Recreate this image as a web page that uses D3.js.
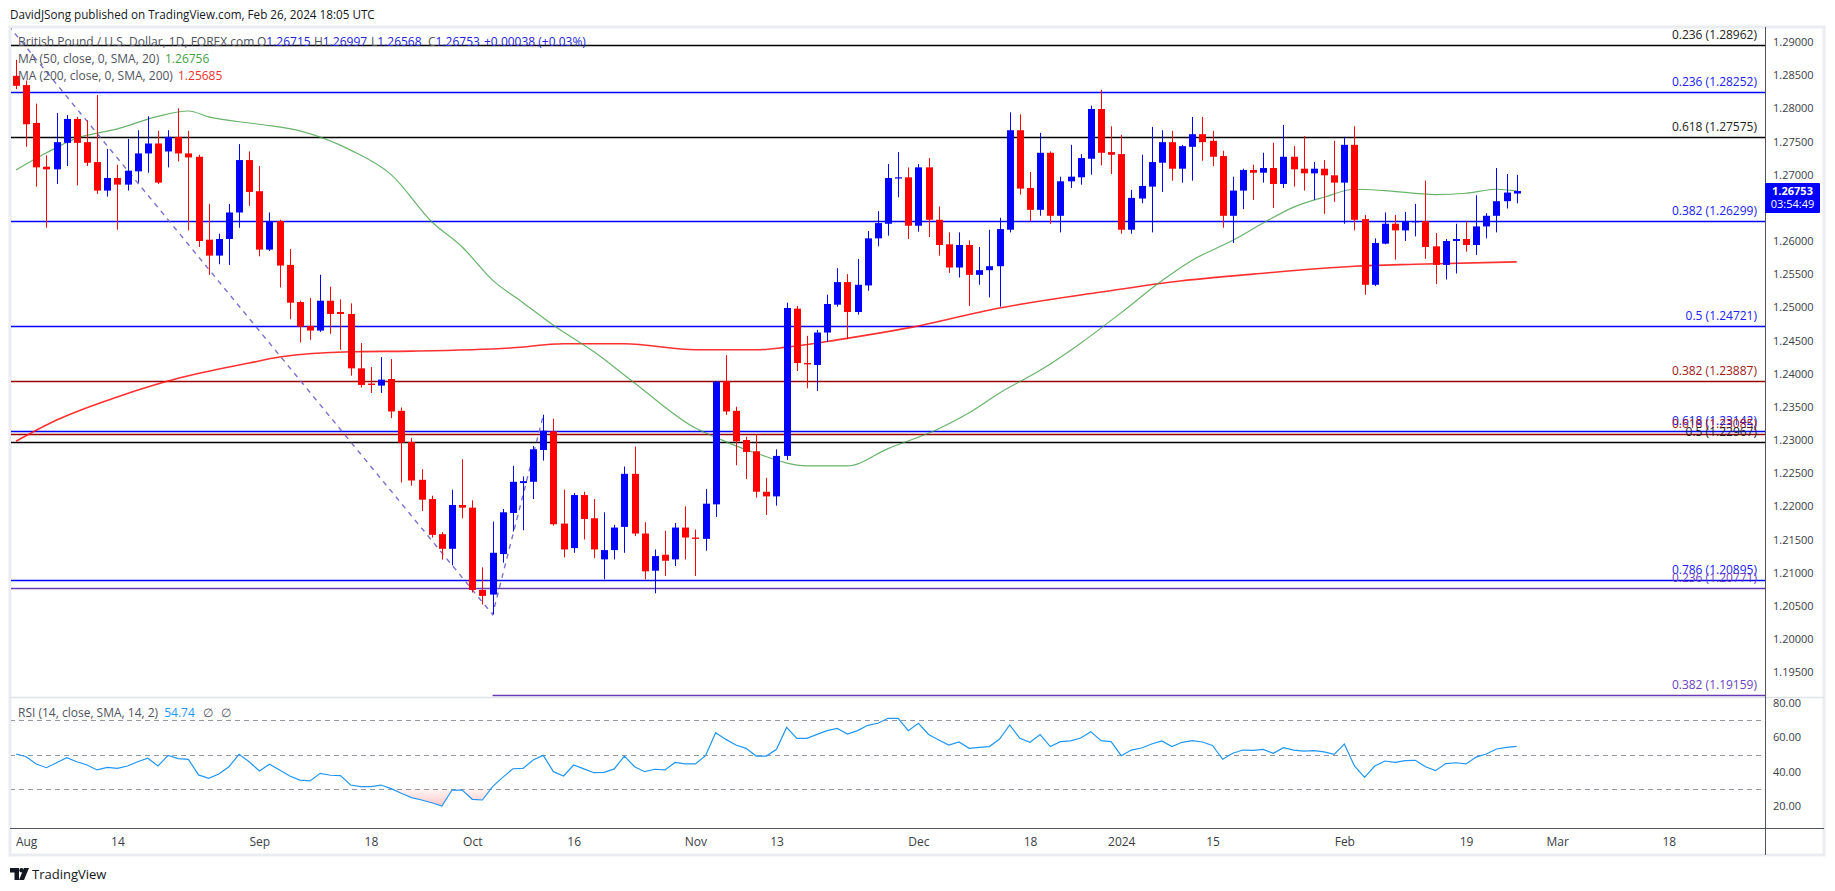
<!DOCTYPE html>
<html><head><meta charset="utf-8">
<script src="https://cdn.jsdelivr.net/npm/d3@7"></script>
<style>
html,body{margin:0;padding:0;background:#fff;}
svg{display:block;font-family:"Open Sans","Noto Sans",sans-serif;}
</style></head><body>
<svg id="chart" width="1835" height="891"></svg>
<script>
// ---------- DATA ----------
const monthDays = [
 ["2023-07",[31]],
 ["2023-08",[1,2,3,4,7,8,9,10,11,14,15,16,17,18,21,22,23,24,25,28,29,30,31]],
 ["2023-09",[1,4,5,6,7,8,11,12,13,14,15,18,19,20,21,22,25,26,27,28,29]],
 ["2023-10",[2,3,4,5,6,9,10,11,12,13,16,17,18,19,20,23,24,25,26,27,30,31]],
 ["2023-11",[1,2,3,6,7,8,9,10,13,14,15,16,17,20,21,22,23,24,27,28,29,30]],
 ["2023-12",[1,4,5,6,7,8,11,12,13,14,15,18,19,20,21,22,26,27,28,29]],
 ["2024-01",[2,3,4,5,8,9,10,11,12,15,16,17,18,19,22,23,24,25,26,29,30,31]],
 ["2024-02",[1,2,5,6,7,8,9,12,13,14,15,16,19,20,21,22,23,26]]
];
const openP = [
1.2849,1.2835,1.2778,1.2712,1.2708,1.2748,1.2784,1.2749,1.2719,1.2676,
1.2695,1.2685,1.2705,1.2732,1.2747,1.2735,1.2757,1.2732,1.2727,1.2602,
1.2578,1.2603,1.2643,1.2722,1.2675,1.2587,1.2630,1.2564,1.2508,1.2472,
1.2465,1.2510,1.2493,1.2490,1.2408,1.2385,1.2382,1.2392,1.2344,1.2297,
1.2240,1.2211,1.2158,1.2136,1.2202,1.2198,1.2074,1.2067,1.2128,1.2190,
1.2235,1.2237,1.2285,1.2313,1.2174,1.2137,1.2217,1.2182,1.2120,1.2134,
1.2169,1.2249,1.2159,1.2103,1.2127,1.2120,1.2168,1.2153,1.2151,1.2203,
1.2389,1.2344,1.2300,1.2283,1.2222,1.2215,1.2276,1.2498,1.2416,1.2413,
1.2462,1.2504,1.2538,1.2493,1.2533,1.2604,1.2626,1.2695,1.2696,1.2623,
1.2711,1.2632,1.2595,1.2560,1.2594,1.2549,1.2556,1.2562,1.2617,1.2767,
1.2680,1.2647,1.2733,1.2638,1.2690,1.2696,1.2724,1.2799,1.2734,1.2731,
1.2617,1.2664,1.2682,1.2718,1.2749,1.2709,1.2742,1.2761,1.2751,1.2728,
1.2638,1.2676,1.2707,1.2703,1.2710,1.2686,1.2727,1.2709,1.2702,1.2709,
1.2699,1.2688,1.2745,1.2633,1.2534,1.2596,1.2626,1.2616,1.2629,1.2630,
1.2592,1.2564,1.2600,1.2603,1.2594,1.2622,1.2638,1.2660,1.26715];
const highP = [
1.2873,1.2842,1.2807,1.2729,1.2793,1.2790,1.2787,1.2782,1.2820,1.2739,
1.2715,1.2754,1.2767,1.2788,1.2766,1.2767,1.2800,1.2766,1.2730,1.2656,
1.2611,1.2656,1.2746,1.2735,1.2713,1.2643,1.2632,1.2588,1.2510,1.2514,
1.2549,1.2531,1.2512,1.2506,1.2446,1.2410,1.2425,1.2422,1.2349,1.2303,
1.2256,1.2216,1.2161,1.2225,1.2271,1.2209,1.2108,1.2177,1.2196,1.2261,
1.2245,1.2291,1.2338,1.2332,1.2225,1.2220,1.2222,1.2211,1.2191,1.2172,
1.2260,1.2290,1.2176,1.2135,1.2163,1.2175,1.2200,1.2165,1.2226,1.2389,
1.2428,1.2350,1.2305,1.2309,1.2243,1.2286,1.2507,1.2502,1.2457,1.2466,
1.2519,1.2559,1.2550,1.2573,1.2615,1.2645,1.2716,1.2734,1.2711,1.2716,
1.2725,1.2652,1.2613,1.2613,1.2601,1.2591,1.2617,1.2635,1.2794,1.2791,
1.2704,1.2763,1.2735,1.2697,1.2745,1.2731,1.2804,1.2828,1.2773,1.2760,
1.2677,1.2730,1.2772,1.2767,1.2766,1.2745,1.2787,1.2787,1.2766,1.2736,
1.2697,1.2709,1.2715,1.2733,1.2748,1.2775,1.2743,1.2758,1.2719,1.2722,
1.2751,1.2757,1.2773,1.2639,1.2604,1.2643,1.2639,1.2644,1.2656,1.2691,
1.2612,1.2603,1.2626,1.2630,1.2669,1.2642,1.2710,1.2701,1.26997];
const lowP = [
1.2829,1.2742,1.2682,1.2620,1.2686,1.2713,1.2684,1.2713,1.2671,1.2667,
1.2617,1.2676,1.2688,1.2703,1.2686,1.2711,1.2720,1.2616,1.2591,1.2549,
1.2565,1.2564,1.2620,1.2653,1.2577,1.2585,1.2530,1.2482,1.2447,1.2451,
1.2463,1.2460,1.2436,1.2397,1.2379,1.2371,1.2371,1.2333,1.2236,1.2231,
1.2193,1.2153,1.2120,1.2111,1.2182,1.2070,1.2052,1.2037,1.2115,1.2162,
1.2164,1.2211,1.2269,1.2171,1.2123,1.2130,1.2150,1.2122,1.2090,1.2120,
1.2130,1.2155,1.2090,1.2069,1.2095,1.2110,1.2120,1.2095,1.2133,1.2184,
1.2338,1.2262,1.2241,1.2213,1.2187,1.2201,1.2270,1.2404,1.2378,1.2374,
1.2448,1.2501,1.2452,1.2489,1.2525,1.2592,1.2608,1.2666,1.2603,1.2614,
1.2606,1.2578,1.2552,1.2545,1.2502,1.2534,1.2515,1.2501,1.2613,1.2670,
1.2630,1.2638,1.2626,1.2613,1.2680,1.2685,1.2700,1.2714,1.2701,1.2611,
1.2611,1.2657,1.2613,1.2674,1.2691,1.2688,1.2691,1.2721,1.2713,1.2620,
1.2597,1.2648,1.2662,1.2688,1.2650,1.2680,1.2682,1.2676,1.2662,1.2641,
1.2659,1.2626,1.2616,1.2519,1.2532,1.2595,1.2572,1.2600,1.2607,1.2573,
1.2535,1.2542,1.2551,1.2584,1.2579,1.2604,1.2613,1.2649,1.26568];
const closeP = [
1.2834,1.2776,1.2711,1.2708,1.2749,1.2784,1.2748,1.2718,1.2676,1.2695,
1.2685,1.2706,1.2732,1.2747,1.2688,1.2757,1.2732,1.2726,1.2600,1.2578,
1.2603,1.2643,1.2722,1.2674,1.2587,1.2630,1.2563,1.2507,1.2471,1.2465,
1.2510,1.2490,1.2490,1.2408,1.2383,1.2383,1.2391,1.2343,1.2296,1.2239,
1.2210,1.2157,1.2136,1.2202,1.2198,1.2074,1.2065,1.2130,1.2191,1.2237,
1.2238,1.2286,1.2314,1.2173,1.2135,1.2217,1.2181,1.2135,1.2134,1.2168,
1.2249,1.2159,1.2102,1.2125,1.2118,1.2168,1.2153,1.2151,1.2204,1.2388,
1.2343,1.2298,1.2282,1.2222,1.2215,1.2276,1.2499,1.2416,1.2414,1.2462,
1.2505,1.2538,1.2493,1.2534,1.2604,1.2627,1.2695,1.2696,1.2623,1.2711,
1.2632,1.2594,1.2560,1.2594,1.2549,1.2556,1.2562,1.2618,1.2767,1.2679,
1.2647,1.2733,1.2638,1.2690,1.2697,1.2725,1.2799,1.2733,1.2730,1.2617,
1.2665,1.2683,1.2719,1.2749,1.2709,1.2743,1.2761,1.2749,1.2727,1.2638,
1.2676,1.2707,1.2703,1.2710,1.2686,1.2727,1.2708,1.2702,1.2709,1.2699,
1.2688,1.2745,1.2632,1.2534,1.2597,1.2626,1.2616,1.2630,1.2630,1.2591,
1.2564,1.2600,1.2603,1.2594,1.2622,1.2638,1.2660,1.2673,1.26753];
const changeText = "+0.00038 (+0.03%)";
const rsiValues = [
50.3,48.7,44.5,42.3,45.2,48.2,45.8,43.9,41.0,42.5,
41.9,43.3,45.8,47.8,43.3,49.5,47.6,47.2,38.1,36.1,
38.6,42.9,50.1,45.8,40.4,44.3,41.0,37.5,35.1,34.6,
39.0,37.9,37.7,32.2,31.3,31.3,32.2,30.1,27.4,24.9,
23.5,21.9,20.0,29.3,29.3,23.9,23.5,31.3,36.7,41.7,
41.9,46.8,49.5,40.0,37.5,43.9,41.6,39.4,39.6,41.6,
49.1,42.9,40.0,41.4,41.0,45.4,44.5,44.5,49.3,62.7,
58.8,55.5,53.6,49.1,49.1,53.0,65.8,59.4,59.4,61.7,
63.9,65.2,61.9,63.9,67.0,68.2,71.1,71.1,63.9,68.2,
61.7,58.4,55.5,57.3,53.6,54.2,54.6,59.0,67.2,59.4,
57.1,61.6,54.6,57.5,57.9,59.6,63.3,58.1,57.5,49.3,
52.6,53.8,56.1,57.9,54.6,57.1,58.1,57.3,55.3,47.2,
50.7,52.6,52.4,53.0,50.7,54.0,52.6,52.0,52.2,51.5,
50.1,56.1,43.3,36.7,43.3,46.2,45.4,46.4,46.6,42.9,
40.6,44.7,45.2,44.5,48.5,50.3,53.2,54.2,54.74];
const ma50Dates = ["2023-07-31","2023-08-03","2023-08-08","2023-08-14","2023-08-18","2023-08-23","2023-08-25","2023-09-01","2023-09-07","2023-09-14","2023-09-20","2023-09-26","2023-09-29","2023-10-04","2023-10-09","2023-10-12","2023-10-18","2023-10-24","2023-11-01","2023-11-03","2023-11-09","2023-11-16","2023-11-22","2023-11-28","2023-12-05","2023-12-08","2023-12-13","2023-12-19","2023-12-26","2024-01-02","2024-01-08","2024-01-11","2024-01-17","2024-01-22","2024-01-25","2024-01-30","2024-02-02","2024-02-07","2024-02-14","2024-02-19","2024-02-22","2024-02-26"];
const ma50Values = [1.2707,1.2733,1.2755,1.2769,1.2788,1.2796,1.2787,1.2776,1.2766,1.2737,1.2700,1.2629,1.2591,1.2541,1.2507,1.2473,1.2433,1.2386,1.2318,1.2304,1.2280,1.2261,1.2261,1.2287,1.2317,1.2341,1.2371,1.2405,1.2446,1.2492,1.2540,1.2571,1.2601,1.2627,1.2651,1.2666,1.2678,1.2676,1.2670,1.2672,1.2678,1.26756];
const ma200Dates = ["2023-07-31","2023-08-04","2023-08-14","2023-08-22","2023-08-31","2023-09-05","2023-09-14","2023-09-22","2023-10-06","2023-10-13","2023-10-23","2023-11-01","2023-11-09","2023-11-14","2023-11-21","2023-11-30","2023-12-13","2023-12-28","2024-01-10","2024-01-19","2024-02-02","2024-02-12","2024-02-26"];
const ma200Values = [1.2298,1.2330,1.2365,1.2393,1.2416,1.2425,1.2433,1.2434,1.2439,1.2445,1.2445,1.2436,1.2436,1.2440,1.2451,1.2469,1.2499,1.2523,1.2540,1.2550,1.2562,1.2565,1.25685];
const fibRatios = ["0.236","0.236","0.618","0.382","0.5","0.382","0.618","0.618","0.5","0.786","0.236","0.382"];
const fibPrices = [1.28962,1.28252,1.27575,1.26299,1.24721,1.23887,1.23142,1.23085,1.22967,1.20895,1.20771,1.19159];
const fibKinds = ["black","blue","black","blue","blue","red","blue","red","black","blue","purple","purple"];
const fibStartDates = ["2023-07-27","2023-07-27","2023-07-27","2023-07-27","2023-07-27","2023-07-27","2023-07-27","2023-07-27","2023-07-27","2023-07-27","2023-07-27","2023-10-04"];
const trendDates = ["2023-07-27","2023-10-04","2023-10-11"];
const trendPrices = [1.2948,1.2037,1.2337];
const priceTicks = [1.195,1.200,1.205,1.210,1.215,1.220,1.225,1.230,1.235,1.240,1.245,1.250,1.255,1.260,1.265,1.270,1.275,1.280,1.285,1.290];
const rsiTicks = [80,60,40,20];
const rsiBands = [70,50,30];
const timeTickDates = ["2023-08-01","2023-08-14","2023-09-01","2023-09-18","2023-10-02","2023-10-16","2023-11-01","2023-11-13","2023-12-01","2023-12-18","2024-01-02","2024-01-15","2024-02-01","2024-02-19","2024-03-01","2024-03-18"];
const timeTickLabels = ["Aug","14","Sep","18","Oct","16","Nov","13","Dec","18","2024","15","Feb","19","Mar","18"];

// ---------- SETUP ----------
const dates = [];
monthDays.forEach(([m, ds]) => ds.forEach(d => dates.push(m + "-" + String(d).padStart(2, "0"))));
const idxMap = new Map(dates.map((d, i) => [d, i]));
function idxOf(s) {
  if (idxMap.has(s)) return idxMap.get(s);
  const d = new Date(s + "T00:00:00Z");
  const last = new Date(dates[dates.length - 1] + "T00:00:00Z");
  const first = new Date(dates[0] + "T00:00:00Z");
  if (d > last) {
    let c = new Date(last), i = dates.length - 1;
    while (c < d) { c.setUTCDate(c.getUTCDate() + 1); const w = c.getUTCDay(); if (w !== 0 && w !== 6) i++; }
    return i;
  }
  let c = new Date(first), i = 0;
  while (c > d) { c.setUTCDate(c.getUTCDate() - 1); const w = c.getUTCDay(); if (w !== 0 && w !== 6) i--; }
  return i;
}

const L = 10, R = 1765, PT = 28, PB = 697, RB = 828, AB = 855, OR = 1824;
const x = d3.scaleLinear().domain([0, 148]).range([16, 1516.7]);
const y = d3.scaleLinear().domain([1.19, 1.29]).range([705.33, 42]);
const yR = d3.scaleLinear().domain([20, 80]).range([806, 703]);

const fibColors = {black: "#000000", blue: "#0000ff", red: "#990000", purple: "#673ab7"};
const fibTextColors = {black: "#222222", blue: "#2020f0", red: "#a01818", purple: "#6c3fbf"};
const upC = "#0000ff", dnC = "#ff0000";

const svg = d3.select("#chart");
const defs = svg.append("defs");
defs.append("clipPath").attr("id", "pclip").append("rect").attr("x", L + 1).attr("y", PT).attr("width", R - L - 1).attr("height", PB - PT);
defs.append("clipPath").attr("id", "rclip").append("rect").attr("x", L + 1).attr("y", PB + 1).attr("width", R - L - 1).attr("height", RB - PB - 1);
defs.append("clipPath").attr("id", "below30").append("rect").attr("x", L + 1).attr("y", yR(30)).attr("width", R - L - 1).attr("height", RB - yR(30));
const grad = defs.append("linearGradient").attr("id", "pinkg").attr("gradientUnits", "userSpaceOnUse")
  .attr("x1", 0).attr("x2", 0).attr("y1", yR(30)).attr("y2", yR(20));
grad.append("stop").attr("offset", 0).attr("stop-color", "#ff5252").attr("stop-opacity", 0.05);
grad.append("stop").attr("offset", 1).attr("stop-color", "#ff5252").attr("stop-opacity", 0.32);

svg.append("rect").attr("width", 1835).attr("height", 891).attr("fill", "#fff");

// header
svg.append("text").attr("x", 10).attr("y", 19).attr("font-size", 11.7).attr("fill", "#131722")
  .text("DavidJSong published on TradingView.com, Feb 26, 2024 18:05 UTC");

// frame
svg.append("rect").attr("x", L).attr("y", 27).attr("width", OR - L).attr("height", AB - 27)
  .attr("fill", "none").attr("stroke", "#eaecf1").attr("stroke-width", 3);

// ---------- PRICE PANE ----------
const pg = svg.append("g").attr("clip-path", "url(#pclip)");

fibPrices.forEach((p, i) => {
  const yy = Math.round(y(p)) + 0.5;
  pg.append("line").attr("x1", Math.max(L, x(idxOf(fibStartDates[i])))).attr("x2", R)
    .attr("y1", yy).attr("y2", yy).attr("stroke", fibColors[fibKinds[i]]).attr("stroke-width", 1.5);
});

const lineGen = d3.line().x(d => x(d[0])).y(d => y(d[1])).curve(d3.curveMonotoneX);
pg.append("path").datum(ma200Dates.map((d, i) => [idxOf(d), ma200Values[i]]))
  .attr("d", lineGen).attr("fill", "none").attr("stroke", "#ff1a1a").attr("stroke-width", 1.6).attr("stroke-opacity", 0.9);
pg.append("path").datum(ma50Dates.map((d, i) => [idxOf(d), ma50Values[i]]))
  .attr("d", lineGen).attr("fill", "none").attr("stroke", "#43a047").attr("stroke-width", 1.2).attr("stroke-opacity", 0.8);

pg.append("path").datum(trendDates.map((d, i) => [idxOf(d), trendPrices[i]]))
  .attr("d", d3.line().x(d => x(d[0])).y(d => y(d[1]))).attr("fill", "none")
  .attr("stroke", "#7d6fcf").attr("stroke-width", 1.4).attr("stroke-dasharray", "5 5");

const candles = pg.append("g");
dates.forEach((d, i) => {
  const o = openP[i], h = highP[i], l = lowP[i], c = closeP[i];
  const col = c >= o ? upC : dnC;
  const xi = Math.round(x(i));
  candles.append("rect").attr("x", xi).attr("y", y(h)).attr("width", 1).attr("height", Math.max(1, y(l) - y(h))).attr("fill", col);
  const top = y(Math.max(o, c)), bot = y(Math.min(o, c));
  candles.append("rect").attr("x", xi - 3).attr("y", top).attr("width", 7).attr("height", Math.max(1.2, bot - top)).attr("fill", col);
});

fibPrices.forEach((p, i) => {
  svg.append("text").attr("x", 1757).attr("y", Math.round(y(p)) - 6).attr("text-anchor", "end")
    .attr("font-size", 12).attr("fill", fibTextColors[fibKinds[i]])
    .text(fibRatios[i] + " (" + p.toFixed(5) + ")");
});

// legend
const lg = svg.append("g").attr("font-size", 12);
const l1 = lg.append("text").attr("x", 18).attr("y", 46).attr("fill", "#50535e");
l1.append("tspan").text("British Pound / U.S. Dollar, 1D, FOREX.com");
const ohlcLab = ["O", "H", "L", "C"], ohlcVal = [openP[148], highP[148], lowP[148], closeP[148]];
const ohlcX = [257, 314, 371, 428];
ohlcLab.forEach((k, j) => {
  const t = lg.append("text").attr("x", ohlcX[j]).attr("y", 46);
  t.append("tspan").attr("fill", "#50535e").text(k);
  t.append("tspan").attr("fill", "#2424d8").text(ohlcVal[j].toFixed(5));
});
lg.append("text").attr("x", 484).attr("y", 46).attr("fill", "#2424d8").text(changeText);
const l2 = lg.append("text").attr("x", 18).attr("y", 63);
l2.append("tspan").attr("fill", "#50535e").text("MA (50, close, 0, SMA, 20)");
l2.append("tspan").attr("x", 165).attr("fill", "#43a047").text(ma50Values[ma50Values.length - 1].toFixed(5));
const l3 = lg.append("text").attr("x", 18).attr("y", 80);
l3.append("tspan").attr("fill", "#50535e").text("MA (200, close, 0, SMA, 200)");
l3.append("tspan").attr("x", 178).attr("fill", "#f23030").text(ma200Values[ma200Values.length - 1].toFixed(5));

// ---------- RSI PANE ----------
const rg = svg.append("g").attr("clip-path", "url(#rclip)");
rsiBands.forEach(v => {
  rg.append("line").attr("x1", L).attr("x2", R).attr("y1", Math.round(yR(v)) + 0.5).attr("y2", Math.round(yR(v)) + 0.5)
    .attr("stroke", "#9598a1").attr("stroke-width", 1).attr("stroke-dasharray", "5 4");
});
const rsiPts = rsiValues.map((v, i) => [i, v]);
rg.append("path").datum(rsiPts).attr("clip-path", "url(#below30)")
  .attr("d", d3.area().x(d => x(d[0])).y0(yR(30)).y1(d => yR(d[1])))
  .attr("fill", "url(#pinkg)");
rg.append("path").datum(rsiPts).attr("d", d3.line().x(d => x(d[0])).y(d => yR(d[1])))
  .attr("fill", "none").attr("stroke", "#2196f3").attr("stroke-width", 1.2);

const rl = svg.append("text").attr("x", 18).attr("y", 717).attr("font-size", 12);
rl.append("tspan").attr("fill", "#50535e").text("RSI (14, close, SMA, 14, 2)");
rl.append("tspan").attr("dx", 6).attr("fill", "#2196f3").text(rsiValues[rsiValues.length - 1].toFixed(2));
rl.append("tspan").attr("dx", 8).attr("fill", "#50535e").text("∅");
rl.append("tspan").attr("dx", 8).attr("fill", "#50535e").text("∅");

// ---------- SEPARATORS ----------
svg.append("line").attr("x1", L).attr("x2", OR).attr("y1", PB + 0.5).attr("y2", PB + 0.5).attr("stroke", "#e0e3eb").attr("stroke-width", 1.5);
svg.append("line").attr("x1", L).attr("x2", OR).attr("y1", RB + 0.5).attr("y2", RB + 0.5).attr("stroke", "#50535e").attr("stroke-width", 1);
svg.append("line").attr("x1", R + 0.5).attr("x2", R + 0.5).attr("y1", 27).attr("y2", AB).attr("stroke", "#50535e").attr("stroke-width", 1);

// ---------- AXES ----------
const ya = svg.append("g").attr("transform", "translate(1773,0)")
  .call(d3.axisRight(y).tickValues(priceTicks).tickFormat(d => d.toFixed(5)).tickSize(0).tickPadding(0));
ya.select(".domain").remove();
ya.selectAll("text").attr("font-size", 11).attr("fill", "#3a3d46").attr("font-family", "Open Sans");

const ra = svg.append("g").attr("transform", "translate(1773,0)")
  .call(d3.axisRight(yR).tickValues(rsiTicks).tickFormat(d => d.toFixed(2)).tickSize(0).tickPadding(0));
ra.select(".domain").remove();
ra.selectAll("text").attr("font-size", 11).attr("fill", "#3a3d46").attr("font-family", "Open Sans");

const tIdx = timeTickDates.map(idxOf);
const xa = svg.append("g").attr("transform", "translate(0,842)")
  .call(d3.axisBottom(x).tickValues(tIdx).tickFormat((d, i) => timeTickLabels[i]).tickSize(0).tickPadding(0));
xa.select(".domain").remove();
xa.selectAll("text").attr("y", 0).attr("dy", "0.35em").attr("font-size", 12).attr("fill", "#3a3d46").attr("font-family", "Open Sans");

// last price label
const lp = svg.append("g");
const lpY = Math.round(y(closeP[148]));
lp.append("rect").attr("x", R).attr("y", lpY - 8).attr("width", 55).attr("height", 30).attr("rx", 1).attr("fill", "#0000ff");
lp.append("text").attr("x", R + 27.5).attr("y", lpY + 4).attr("text-anchor", "middle")
  .attr("font-size", 11).attr("font-weight", "bold").attr("fill", "#fff").text(closeP[148].toFixed(5));
lp.append("text").attr("x", R + 27.5).attr("y", lpY + 17).attr("text-anchor", "middle")
  .attr("font-size", 11).attr("fill", "#fff").text("03:54:49");

// TradingView logo
const tv = svg.append("g").attr("fill", "#131722");
tv.append("path").attr("d", "M10 868 h9 v12 h-4.5 v-7.5 h-4.5 z");
tv.append("circle").attr("cx", 21.5).attr("cy", 870.3).attr("r", 2.2);
tv.append("path").attr("d", "M24 868 h5 l-5 12 h-5 z");
svg.append("text").attr("x", 32).attr("y", 879).attr("font-size", 13).attr("fill", "#131722").text("TradingView");
</script>
</body></html>
